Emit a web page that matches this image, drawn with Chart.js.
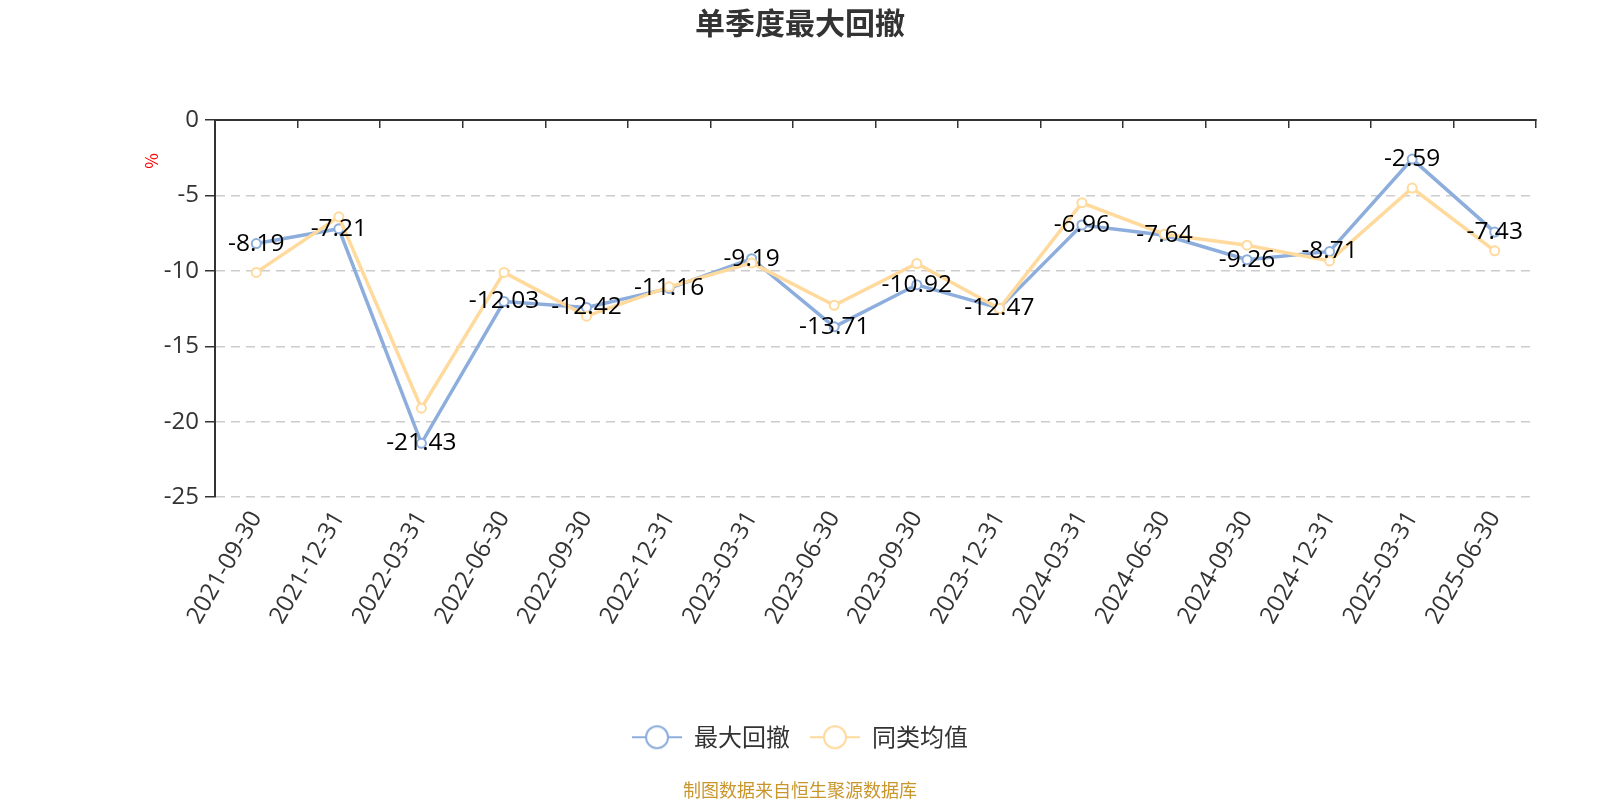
<!DOCTYPE html>
<html>
<head>
<meta charset="utf-8">
<script src="https://cdn.jsdelivr.net/npm/chart.js@4.4.1/dist/chart.umd.min.js"></script>
<style>
html,body{margin:0;padding:0;background:#fff;}
#wrap{width:1600px;height:800px;position:relative;}
</style>
</head>
<body>
<div id="wrap"><canvas id="c"></canvas></div>
<script>
const categories = ['2021-09-30','2021-12-31','2022-03-31','2022-06-30','2022-09-30','2022-12-31','2023-03-31','2023-06-30','2023-09-30','2023-12-31','2024-03-31','2024-06-30','2024-09-30','2024-12-31','2025-03-31','2025-06-30'];
const maxDrawdown = [-8.19,-7.21,-21.43,-12.03,-12.42,-11.16,-9.19,-13.71,-10.92,-12.47,-6.96,-7.64,-9.26,-8.71,-2.59,-7.43];
const peerAverage = [-10.10,-6.42,-19.10,-10.10,-13.00,-11.06,-9.47,-12.28,-9.51,-12.50,-5.49,-7.57,-8.30,-9.34,-4.51,-8.67];
const seriesNames = ['最大回撤','同类均值'];
const yMin = -25, yMax = 0, yStep = 5;
const titleText = '单季度最大回撤';
const footerText = '制图数据来自恒生聚源数据库';
const unitText = '%';

const BLUE = '#8DAEDC';
const YELLOW = '#FFDA9C';
const FONT = '"Noto Sans CJK SC", "Noto Sans", sans-serif';
const NUMFONT = '"Open Sans", "Noto Sans CJK SC", sans-serif';
Chart.defaults.font.family = FONT;

function legendIcon(color){
  const cv = document.createElement('canvas');
  cv.width = 50; cv.height = 28;
  const g = cv.getContext('2d');
  g.strokeStyle = color; g.lineWidth = 2;
  g.beginPath(); g.moveTo(0,14); g.lineTo(50,14); g.stroke();
  g.beginPath(); g.arc(25,14,11,0,Math.PI*2);
  g.fillStyle = '#fff'; g.fill(); g.stroke();
  return cv;
}
const icons = [legendIcon(BLUE), legendIcon(YELLOW)];

const valueLabels = {
  id: 'valueLabels',
  afterDatasetsDraw(chart){
    const meta = chart.getDatasetMeta(0);
    const ctx = chart.ctx;
    ctx.save();
    ctx.font = '24.5px ' + NUMFONT;
    ctx.fillStyle = '#000';
    ctx.textAlign = 'center';
    ctx.textBaseline = 'middle';
    meta.data.forEach((pt, i) => {
      ctx.fillText(maxDrawdown[i].toFixed(2), pt.x, pt.y);
    });
    ctx.restore();
  }
};

const unitLabel = {
  id: 'unitLabel',
  afterDraw(chart){
    const ca = chart.chartArea;
    const ctx = chart.ctx;
    ctx.save();
    ctx.translate(ca.left - 63, ca.top + 41);
    ctx.rotate(-Math.PI/2);
    ctx.font = '17px ' + FONT;
    ctx.fillStyle = '#ff0000';
    ctx.textAlign = 'center';
    ctx.textBaseline = 'middle';
    ctx.fillText(unitText, 0, 0);
    ctx.restore();
  }
};

new Chart(document.getElementById('c'), {
  type: 'line',
  data: {
    labels: categories,
    datasets: [
      {
        label: seriesNames[0], data: maxDrawdown, order: 1,
        borderColor: BLUE, backgroundColor: BLUE, borderWidth: 3.5,
        pointRadius: 4.5, pointBorderWidth: 2, pointBackgroundColor: '#fff', pointBorderColor: BLUE,
        tension: 0, xAxisID: 'x', yAxisID: 'y'
      },
      {
        label: seriesNames[1], data: peerAverage, order: 0,
        borderColor: YELLOW, backgroundColor: YELLOW, borderWidth: 3.5,
        pointRadius: 4.5, pointBorderWidth: 2, pointBackgroundColor: '#fff', pointBorderColor: YELLOW,
        tension: 0, xAxisID: 'x', yAxisID: 'y'
      }
    ]
  },
  options: {
    responsive: true,
    maintainAspectRatio: false,
    animation: false,
    layout: { padding: { left: 64, right: 64, top: 0, bottom: 0 } },
    plugins: {
      tooltip: { enabled: false },
      title: {
        display: true, text: titleText, color: '#333',
        font: { size: 30, weight: 'bold', lineHeight: 1.2 },
        padding: { top: 5, bottom: 0 }
      },
      subtitle: {
        display: true, text: footerText, position: 'bottom', color: '#c9962b',
        font: { size: 18, lineHeight: 1.1 },
        padding: { top: 21, bottom: 0 }
      },
      legend: {
        display: true, position: 'bottom',
        labels: {
          usePointStyle: true, pointStyleWidth: 50, boxHeight: 24,
          padding: 20, color: '#333', font: { size: 24 },
          sort: (a, b) => a.datasetIndex - b.datasetIndex,
          generateLabels(chart){
            const items = Chart.defaults.plugins.legend.labels.generateLabels(chart);
            items.forEach(it => { it.pointStyle = icons[it.datasetIndex]; });
            return items;
          }
        }
      }
    },
    scales: {
      x: {
        type: 'category', position: 'bottom', offset: true,
        grid: { display: false }, border: { display: false },
        ticks: { color: '#333', font: { size: 24, family: NUMFONT }, minRotation: 60, maxRotation: 60, padding: 1, autoSkip: false },
        afterFit(s){ s.height = 208; }
      },
      x2: {
        type: 'category', position: 'top', labels: categories, offset: true,
        grid: { display: true, drawOnChartArea: false, drawTicks: true, tickLength: -8, offset: true,
                color: '#333', tickColor: '#333', tickWidth: 1.5, lineWidth: 1.5 },
        border: { display: true, color: '#333', width: 2 },
        ticks: { display: false },
        afterFit(s){ s.height = 79; }
      },
      y: {
        min: yMin, max: yMax,
        ticks: { stepSize: yStep, color: '#333', font: { size: 24, family: NUMFONT }, padding: 6 },
        grid: {
          color: ctx => (ctx.tick && ctx.tick.value === 0) ? 'rgba(0,0,0,0)' : '#cccccc',
          lineWidth: 1.5, drawTicks: true, tickLength: 10, tickColor: '#333', tickWidth: 1.5
        },
        border: { display: true, color: '#333', width: 2, dash: [9, 6] },
        afterFit(s){ s.width = 151; }
      }
    }
  },
  plugins: [valueLabels, unitLabel]
});
</script>
</body>
</html>
